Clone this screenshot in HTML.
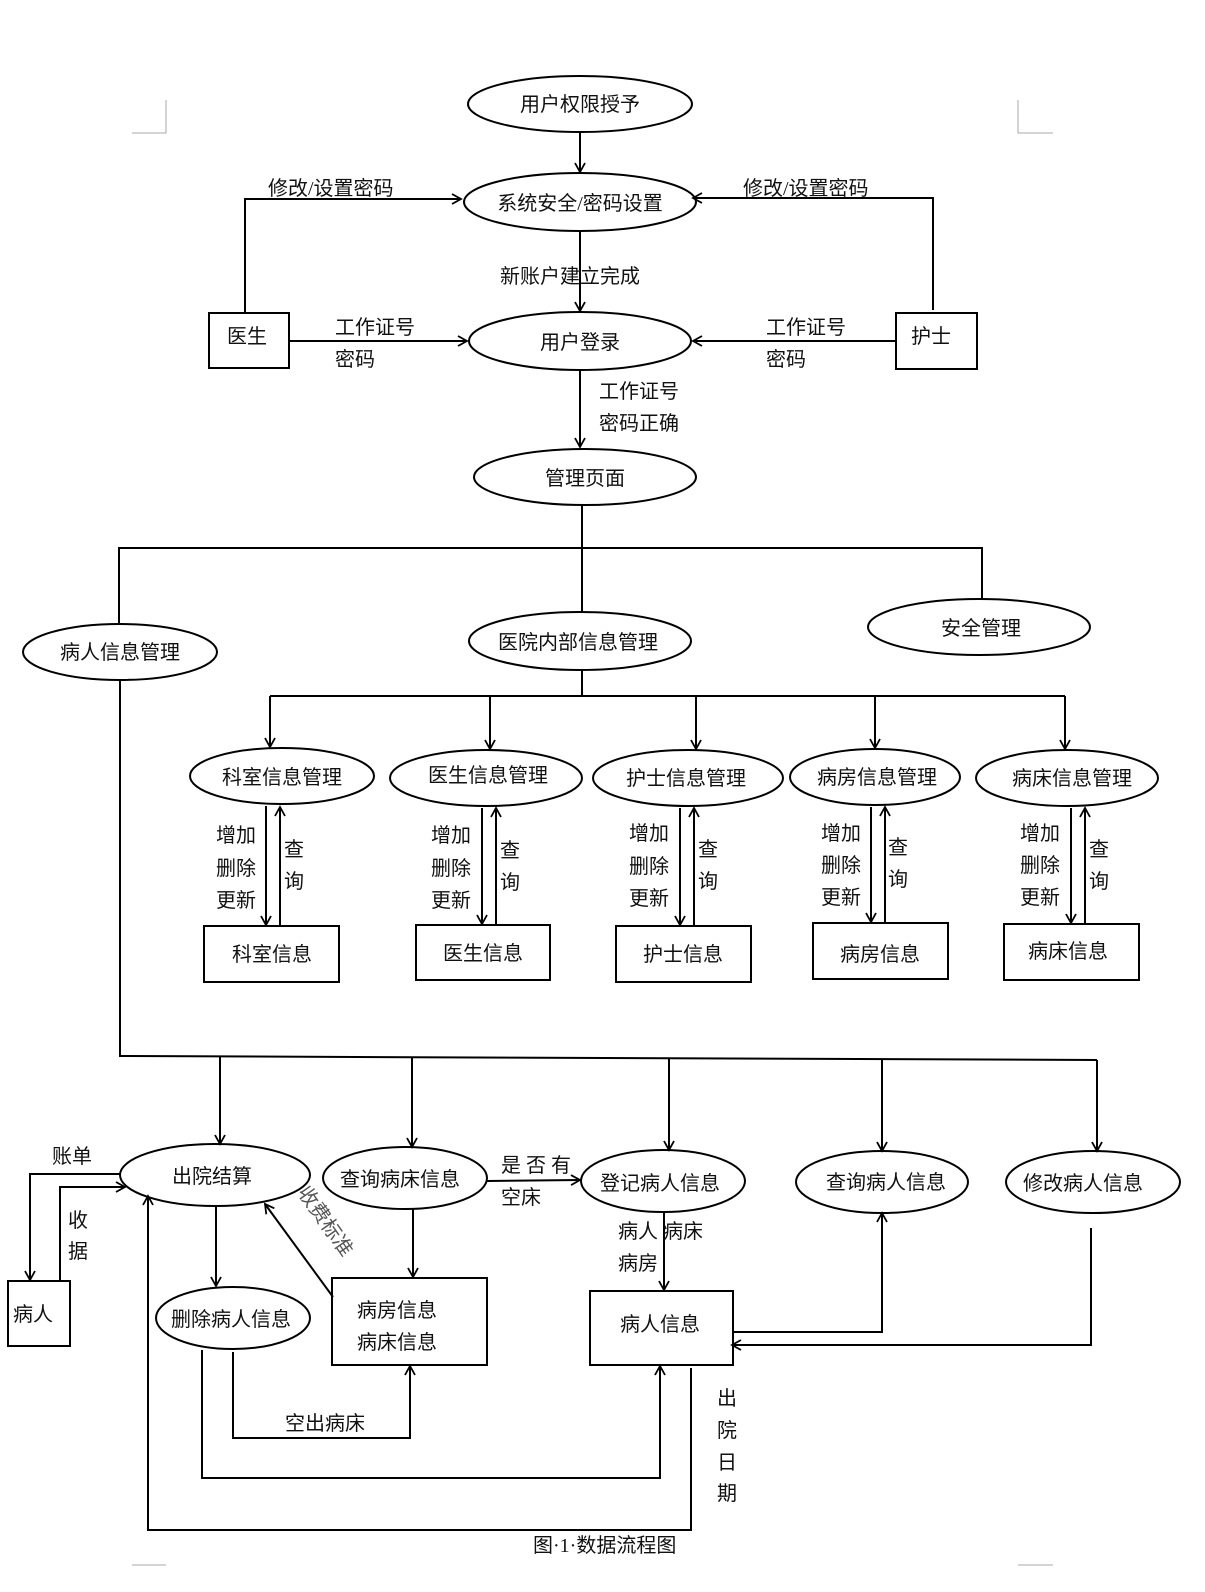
<!DOCTYPE html>
<html><head><meta charset="utf-8"><style>
html,body{margin:0;padding:0;background:#fff;}
svg{display:block;}
text{font-family:"Liberation Serif","Noto Sans CJK SC",sans-serif;font-size:20px;fill:#111;}
</style></head><body>
<svg width="1205" height="1592" viewBox="0 0 1205 1592" xmlns="http://www.w3.org/2000/svg">
<defs><marker id="a" markerWidth="12" markerHeight="12" refX="10" refY="6" orient="auto" markerUnits="userSpaceOnUse"><path d="M1,1 L10,6 L1,11" fill="none" stroke="#000" stroke-width="1.8"/></marker></defs>
<g stroke="#aaa" stroke-width="1" fill="none">
<path d="M132,133 H166 V100"/><path d="M1018,100 V133 H1053"/>
<path d="M132,1565 H166"/><path d="M1018,1565 H1053"/>
</g>
<g stroke="#000" stroke-width="2" fill="none">
<ellipse cx="580" cy="104" rx="112" ry="28"/>
<ellipse cx="580" cy="202" rx="116" ry="29"/>
<ellipse cx="580" cy="341" rx="111" ry="29"/>
<ellipse cx="585" cy="477" rx="111" ry="28"/>
<ellipse cx="120" cy="652" rx="97" ry="28"/>
<ellipse cx="580" cy="641" rx="111" ry="29"/>
<ellipse cx="979" cy="627" rx="111" ry="28"/>
<ellipse cx="282" cy="776" rx="92" ry="28"/>
<ellipse cx="486" cy="778" rx="96" ry="28"/>
<ellipse cx="688" cy="778" rx="95" ry="28"/>
<ellipse cx="875" cy="777" rx="85" ry="28"/>
<ellipse cx="1067" cy="778" rx="91" ry="28"/>
<ellipse cx="215" cy="1175" rx="95" ry="31"/>
<ellipse cx="405" cy="1178" rx="82" ry="31"/>
<ellipse cx="663" cy="1181" rx="82" ry="31"/>
<ellipse cx="882" cy="1182" rx="86" ry="31"/>
<ellipse cx="1093" cy="1182" rx="87" ry="31"/>
<ellipse cx="233" cy="1318" rx="77" ry="31"/>
<rect x="209" y="313" width="80" height="55"/>
<rect x="896" y="313" width="81" height="56"/>
<rect x="204" y="926" width="135" height="56"/>
<rect x="416" y="925" width="134" height="55"/>
<rect x="616" y="926" width="135" height="56"/>
<rect x="813" y="923" width="135" height="56"/>
<rect x="1004" y="924" width="135" height="56"/>
<rect x="8" y="1281" width="62" height="65"/>
<rect x="332" y="1278" width="155" height="87"/>
<rect x="590" y="1291" width="143" height="74"/>
</g>
<g stroke="#000" stroke-width="2" fill="none">
<path d="M580,132 V172" marker-end="url(#a)"/>
<path d="M245,312 V199 H461" marker-end="url(#a)"/>
<path d="M933,310 V198 H693" marker-end="url(#a)"/>
<path d="M580,232 V311" marker-end="url(#a)"/>
<path d="M289,341 H467" marker-end="url(#a)"/>
<path d="M896,341 H693" marker-end="url(#a)"/>
<path d="M580,370 V447" marker-end="url(#a)"/>
<path d="M582,505 V612 M119,624 V548 H982 V599"/>
<path d="M582,670 V696 M270,696 H1065"/>
<path d="M270,696 V747" marker-end="url(#a)"/>
<path d="M490,696 V749" marker-end="url(#a)"/>
<path d="M696,696 V749" marker-end="url(#a)"/>
<path d="M875,696 V748" marker-end="url(#a)"/>
<path d="M1065,696 V749" marker-end="url(#a)"/>
<path d="M266,806 V925" marker-end="url(#a)"/><path d="M280,925 V807" marker-end="url(#a)"/>
<path d="M482,808 V924" marker-end="url(#a)"/><path d="M496,924 V808" marker-end="url(#a)"/>
<path d="M680,808 V925" marker-end="url(#a)"/><path d="M694,925 V808" marker-end="url(#a)"/>
<path d="M871,807 V922" marker-end="url(#a)"/><path d="M885,922 V807" marker-end="url(#a)"/>
<path d="M1071,808 V923" marker-end="url(#a)"/><path d="M1085,923 V808" marker-end="url(#a)"/>
<path d="M120,681 V1056 L1097,1060"/>
<path d="M220,1056 V1144" marker-end="url(#a)"/>
<path d="M412,1057 V1147" marker-end="url(#a)"/>
<path d="M669,1058 V1150" marker-end="url(#a)"/>
<path d="M882,1059 V1151" marker-end="url(#a)"/>
<path d="M1097,1060 V1151" marker-end="url(#a)"/>
<path d="M120,1174 H30 V1280" marker-end="url(#a)"/>
<path d="M60,1281 V1187 H125" marker-end="url(#a)"/>
<path d="M216,1207 V1286" marker-end="url(#a)"/>
<path d="M413,1209 V1277" marker-end="url(#a)"/>
<path d="M333,1297 L265,1204" marker-end="url(#a)"/>
<path d="M487,1181 L580,1180" marker-end="url(#a)"/>
<path d="M664,1212 V1290" marker-end="url(#a)"/>
<path d="M733,1332 H882 V1213" marker-end="url(#a)"/>
<path d="M1091,1228 V1345 H732" marker-end="url(#a)"/>
<path d="M233,1352 V1438 H410 V1366" marker-end="url(#a)"/>
<path d="M202,1350 V1478 H660 V1366" marker-end="url(#a)"/>
<path d="M691,1368 V1530 H148 V1196" marker-end="url(#a)"/>
</g>
<text x="580" y="111" text-anchor="middle">用户权限授予</text>
<text x="580" y="210" text-anchor="middle">系统安全/密码设置</text>
<text x="268" y="195">修改/设置密码</text>
<text x="743" y="195">修改/设置密码</text>
<text x="500" y="283">新账户建立完成</text>
<text x="227" y="343">医生</text>
<text x="911" y="343">护士</text>
<text x="580" y="349" text-anchor="middle">用户登录</text>
<text x="335" y="334">工作证号</text>
<text x="335" y="366">密码</text>
<text x="766" y="334">工作证号</text>
<text x="766" y="366">密码</text>
<text x="599" y="398">工作证号</text>
<text x="599" y="430">密码正确</text>
<text x="585" y="485" text-anchor="middle">管理页面</text>
<text x="120" y="659" text-anchor="middle">病人信息管理</text>
<text x="578" y="649" text-anchor="middle">医院内部信息管理</text>
<text x="981" y="635" text-anchor="middle">安全管理</text>
<text x="282" y="784" text-anchor="middle">科室信息管理</text>
<text x="488" y="782" text-anchor="middle">医生信息管理</text>
<text x="686" y="785" text-anchor="middle">护士信息管理</text>
<text x="877" y="784" text-anchor="middle">病房信息管理</text>
<text x="1072" y="785" text-anchor="middle">病床信息管理</text>
<g>
<text x="216" y="842">增加</text><text x="216" y="875">删除</text><text x="216" y="907">更新</text><text x="284" y="856">查</text><text x="284" y="888">询</text>
<text x="431" y="842">增加</text><text x="431" y="875">删除</text><text x="431" y="907">更新</text><text x="500" y="857">查</text><text x="500" y="889">询</text>
<text x="629" y="840">增加</text><text x="629" y="873">删除</text><text x="629" y="905">更新</text><text x="698" y="856">查</text><text x="698" y="888">询</text>
<text x="821" y="840">增加</text><text x="821" y="872">删除</text><text x="821" y="904">更新</text><text x="888" y="854">查</text><text x="888" y="886">询</text>
<text x="1020" y="840">增加</text><text x="1020" y="872">删除</text><text x="1020" y="904">更新</text><text x="1089" y="856">查</text><text x="1089" y="888">询</text>
</g>
<text x="272" y="961" text-anchor="middle">科室信息</text>
<text x="483" y="960" text-anchor="middle">医生信息</text>
<text x="683" y="961" text-anchor="middle">护士信息</text>
<text x="880" y="961" text-anchor="middle">病房信息</text>
<text x="1068" y="958" text-anchor="middle">病床信息</text>
<text x="212" y="1183" text-anchor="middle">出院结算</text>
<text x="400" y="1186" text-anchor="middle">查询病床信息</text>
<text x="660" y="1190" text-anchor="middle">登记病人信息</text>
<text x="886" y="1189" text-anchor="middle">查询病人信息</text>
<text x="1083" y="1190" text-anchor="middle">修改病人信息</text>
<text x="52" y="1163">账单</text>
<text x="68" y="1227">收</text>
<text x="68" y="1258">据</text>
<text x="13" y="1321">病人</text>
<text x="231" y="1326" text-anchor="middle">删除病人信息</text>
<text x="357" y="1317">病房信息</text>
<text x="357" y="1349">病床信息</text>
<text x="320" y="1225" transform="rotate(55 320 1225)" text-anchor="middle" style="fill:#555">收费标准</text>
<text x="501" y="1172">是 否 有</text>
<text x="501" y="1204">空床</text>
<text x="618" y="1238">病人 病床</text>
<text x="618" y="1270">病房</text>
<text x="660" y="1331" text-anchor="middle">病人信息</text>
<text x="285" y="1430">空出病床</text>
<text x="717" y="1405">出</text>
<text x="717" y="1437">院</text>
<text x="717" y="1469">日</text>
<text x="717" y="1500">期</text>
<text x="533" y="1552">图·1·数据流程图</text>
</svg>
</body></html>
